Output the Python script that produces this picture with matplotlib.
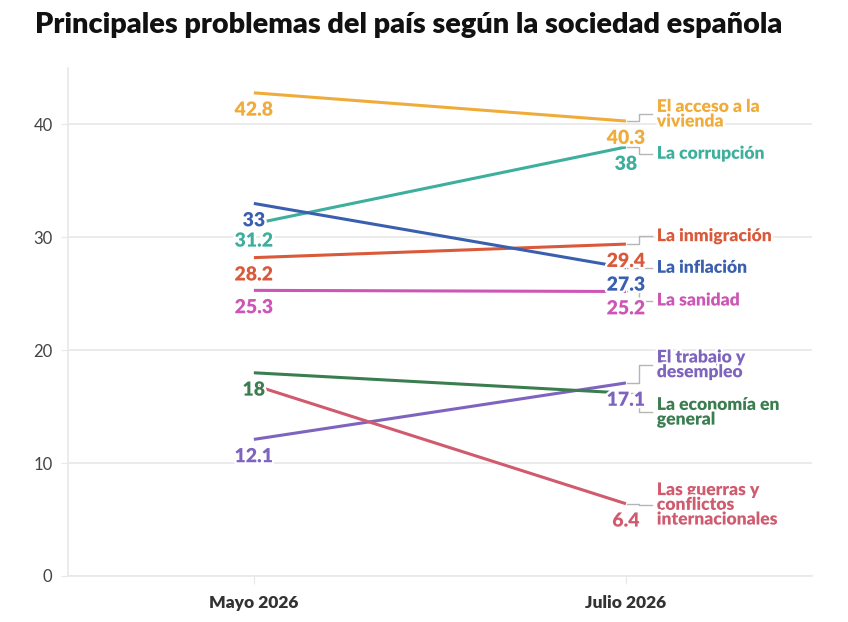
import numpy as np
import matplotlib
matplotlib.use("Agg")
import matplotlib.pyplot as plt
import matplotlib.patheffects as pe

plt.rcParams['font.family'] = ['Lato', 'DejaVu Sans']

# data
periods = ["Mayo 2026", "Julio 2026"]
problems = ["El acceso a la\nvivienda", "La corrupción", "La inmigración", "La inflación",
            "La sanidad", "El trabajo y\ndesempleo", "La economía en\ngeneral",
            "Las guerras y\nconflictos\ninternacionales"]
mayo = [42.8, 31.2, 28.2, 33.0, 25.3, 12.1, 18.0, 16.9]
julio = [40.3, 38.0, 29.4, 27.3, 25.2, 17.1, 16.2, 6.4]
# which value labels are shown (others hidden by overlap in the original)
show_mayo = [True, True, True, True, True, True, True, False]
show_julio = [True, True, True, True, True, True, False, True]
colors = ["#F0AC3A", "#3DAF9C", "#D9593A", "#3A5FAE", "#CC55B5", "#7E63BF", "#3A7D4F", "#D05A6E"]

# layout: where the right-hand names sit (y in data units)
name_y = [40.9, 37.4, 30.1, 27.3, 24.4, 18.7, 14.5, 6.3]

fig = plt.figure(figsize=(8.48, 6.22), dpi=100)
ax = fig.add_axes([0.080, 0.074, 0.8775, 0.8167])
x = np.arange(len(periods))

grid_col = "#e8e8e8"
halo = [pe.withStroke(linewidth=3.5, foreground="white")]

for ii in range(len(problems)):
    c = colors[ii]
    ax.plot(x, [mayo[ii], julio[ii]], color=c, lw=2.2, solid_capstyle="butt", zorder=3)
    # connector to name
    ax.plot([1.003, 1.035, 1.035, 1.07], [julio[ii], julio[ii], name_y[ii], name_y[ii]],
            color="#b5b5b5", lw=1, zorder=2)
    ax.text(1.083, name_y[ii], problems[ii], color=c, fontsize=12.6, fontweight="heavy",
            ha="left", va="center", linespacing=0.9, zorder=5, path_effects=halo)
    if show_mayo[ii]:
        ax.annotate("{:g}".format(mayo[ii]), (0, mayo[ii]), xytext=(0, -12.5),
                    textcoords="offset points", ha="center", va="center", color=c,
                    fontsize=14, fontweight="heavy", zorder=6, path_effects=halo)
    if show_julio[ii]:
        ax.annotate("{:g}".format(julio[ii]), (1, julio[ii]), xytext=(0, -12.5),
                    textcoords="offset points", ha="center", va="center", color=c,
                    fontsize=14, fontweight="heavy", zorder=6, path_effects=halo)

ax.set_xlim(-0.5, 1.5)
ax.set_ylim(0, 45)
ax.set_yticks([0, 10, 20, 30, 40])
ax.set_xticks(x)
ax.set_xticklabels(periods, fontweight="heavy", fontsize=12.5, color="#333333")
ax.tick_params(axis="y", length=5, color=grid_col, labelsize=12, labelcolor="#444444", pad=6)
ax.tick_params(axis="x", length=6, color=grid_col, pad=8)
ax.grid(axis="y", color=grid_col, lw=1.2, zorder=0)
for s in ["top", "right"]:
    ax.spines[s].set_visible(False)
for s in ["left", "bottom"]:
    ax.spines[s].set_color(grid_col)
    ax.spines[s].set_linewidth(1.2)

fig.text(0.041, 0.96, "Principales problemas del país según la sociedad española",
         fontsize=20.8, fontweight="heavy", ha="left", va="center", color="#111111")

fig.savefig("out.png", dpi=100)
